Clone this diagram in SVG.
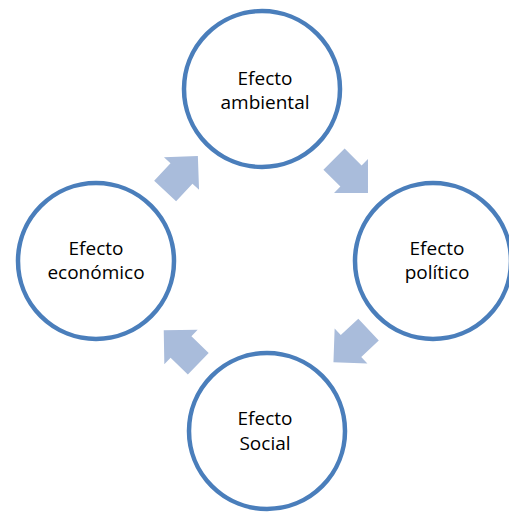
<svg xmlns="http://www.w3.org/2000/svg" width="509" height="512" viewBox="0 0 509 512">
<defs>
<style>
.node circle{fill:#ffffff;stroke:#4A7EBB;stroke-width:4.5}
.node text{font-family:"Open Sans","Liberation Sans",sans-serif;font-size:19px;fill:#000000;text-anchor:middle}
.arrow{fill:#A9BCDB}
</style>
<path id="arr" d="M-24,-15 L0,-15 L0,-24 L24,0 L0,24 L0,15 L-24,15 Z"/>
</defs>
<rect width="509" height="512" fill="#ffffff"/>
<g id="connectors">
<use href="#arr" class="arrow" transform="translate(181.5,173.5) rotate(-47)"/>
<use href="#arr" class="arrow" transform="translate(351,176) rotate(45)"/>
<use href="#arr" class="arrow" transform="translate(351,346) rotate(137)"/>
<use href="#arr" class="arrow" transform="translate(181,347) rotate(224)"/>
</g>
<g id="node-ambiental" class="node">
<circle cx="262" cy="89" r="78"/>
<text x="265" y="85">Efecto</text>
<text x="265" y="109">ambiental</text>
</g>
<g id="node-economico" class="node">
<circle cx="96" cy="261" r="78"/>
<text x="96" y="255">Efecto</text>
<text x="96" y="279">económico</text>
</g>
<g id="node-politico" class="node">
<circle cx="433" cy="261" r="78"/>
<text x="437" y="255">Efecto</text>
<text x="437" y="279">político</text>
</g>
<g id="node-social" class="node">
<circle cx="267" cy="431" r="78"/>
<text x="265" y="425">Efecto</text>
<text x="265" y="450">Social</text>
</g>
</svg>
